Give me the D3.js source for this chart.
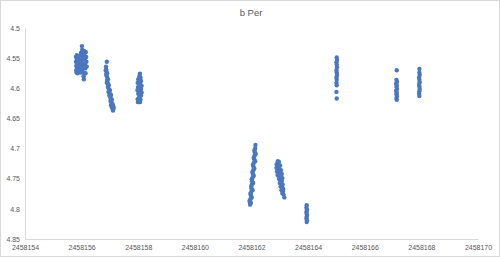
<!DOCTYPE html>
<html>
<head>
<meta charset="utf-8">
<script src="https://cdn.jsdelivr.net/npm/d3@7"></script>
<style>
  body { margin: 0; background: #fff; }
  text { font-family: "Liberation Sans", Arial, sans-serif; fill: #595959; }
</style>
</head>
<body>
<svg id="chart" width="500" height="257"></svg>
<script>
// observations per night, [JD, magnitude]
var night1 = [[2458155.80,4.548],[2458155.80,4.556],[2458155.81,4.563],[2458155.81,4.570],[2458155.82,4.574],
  [2458155.83,4.545],[2458155.84,4.552],[2458155.85,4.560],[2458155.85,4.567],[2458155.86,4.575],
  [2458155.88,4.549],[2458155.89,4.557],[2458155.90,4.564],[2458155.91,4.571],
  [2458155.93,4.546],[2458155.94,4.553],[2458155.95,4.560],[2458155.96,4.568],[2458155.97,4.574],
  [2458155.98,4.541],[2458155.99,4.548],[2458156.00,4.556],[2458156.01,4.563],[2458156.02,4.570],
  [2458156.01,4.530],[2458156.02,4.536],[2458156.03,4.543],[2458156.04,4.551],[2458156.05,4.559],
  [2458156.06,4.566],[2458156.06,4.574],[2458156.07,4.580],[2458156.08,4.585],
  [2458156.09,4.538],[2458156.10,4.545],[2458156.11,4.552],[2458156.12,4.560],[2458156.13,4.567],[2458156.14,4.575],
  [2458156.15,4.540],[2458156.16,4.548],[2458156.17,4.556],[2458156.18,4.564]];
var night2 = [[2458156.89,4.556],
  [2458156.86,4.564],[2458156.87,4.569],[2458156.88,4.573],[2458156.87,4.577],[2458156.89,4.580],
  [2458156.91,4.584],[2458156.90,4.588],[2458156.92,4.591],[2458156.94,4.594],[2458156.93,4.598],
  [2458156.96,4.601],[2458156.97,4.605],[2458156.99,4.608],[2458156.98,4.612],[2458157.01,4.614],
  [2458157.03,4.617],[2458157.02,4.621],[2458157.05,4.623],[2458157.06,4.626],[2458157.08,4.629],
  [2458157.07,4.632],[2458157.10,4.634],[2458157.11,4.637],
  [2458156.90,4.575],[2458156.93,4.585],[2458156.96,4.595],[2458157.00,4.603],[2458157.04,4.611],
  [2458157.07,4.619],[2458157.10,4.627],[2458157.12,4.630],
  [2458156.85,4.570],[2458156.89,4.591],[2458156.95,4.606],[2458157.04,4.628],[2458157.13,4.633]];
var night3 = [[2458158.06,4.576],[2458158.04,4.580],[2458158.08,4.582],[2458158.00,4.585],[2458158.05,4.587],
  [2458158.10,4.588],[2458157.98,4.591],[2458158.03,4.592],[2458158.08,4.594],[2458158.12,4.596],
  [2458157.99,4.598],[2458158.05,4.599],[2458158.10,4.601],[2458157.97,4.603],[2458158.02,4.604],
  [2458158.07,4.606],[2458158.12,4.607],[2458158.00,4.609],[2458158.05,4.611],[2458158.10,4.612],
  [2458158.03,4.615],[2458157.98,4.618],[2458158.08,4.619],[2458157.99,4.623],[2458158.06,4.623]];
var night4 = [[2458162.14,4.694],[2458162.13,4.700],[2458162.12,4.706],[2458162.11,4.712],[2458162.10,4.718],
  [2458162.08,4.724],[2458162.07,4.730],[2458162.06,4.736],[2458162.05,4.742],[2458162.04,4.748],
  [2458162.02,4.754],[2458162.01,4.760],[2458162.00,4.766],[2458161.99,4.772],[2458161.98,4.778],
  [2458161.96,4.784],[2458161.95,4.790],[2458161.95,4.793],
  [2458162.10,4.703],[2458162.15,4.709],[2458162.08,4.715],[2458162.13,4.721],[2458162.05,4.727],
  [2458162.10,4.733],[2458162.03,4.739],[2458162.08,4.745],[2458162.01,4.751],[2458162.06,4.757],
  [2458161.99,4.763],[2458162.04,4.769],[2458161.96,4.775],[2458162.01,4.781],[2458161.93,4.787],
  [2458161.98,4.790]];
var night5 = [[2458162.93,4.721],[2458162.97,4.722],[2458162.89,4.726],[2458162.95,4.727],[2458163.01,4.728],
  [2458162.88,4.732],[2458162.93,4.733],[2458162.99,4.734],[2458163.04,4.736],[2458162.90,4.738],
  [2458162.96,4.739],[2458163.02,4.740],[2458163.07,4.742],[2458162.92,4.744],[2458162.98,4.745],
  [2458163.04,4.747],[2458163.09,4.749],[2458162.97,4.750],[2458163.02,4.752],[2458163.07,4.754],
  [2458163.00,4.757],[2458163.05,4.759],[2458163.10,4.760],[2458163.03,4.763],[2458163.08,4.765],
  [2458163.12,4.767],[2458163.06,4.769],[2458163.11,4.771],[2458163.09,4.774],[2458163.13,4.776],
  [2458163.16,4.781]];
var night6 = [[2458163.95,4.794],[2458163.94,4.798],[2458163.96,4.801],[2458163.95,4.804],[2458163.94,4.807],
  [2458163.96,4.810],[2458163.95,4.813],[2458163.94,4.816],[2458163.96,4.819],[2458163.95,4.822]];
var night7 = [[2458165.01,4.549],[2458165.02,4.553],[2458165.00,4.557],[2458165.01,4.561],[2458165.02,4.565],
  [2458165.00,4.570],[2458165.01,4.574],[2458165.02,4.578],[2458165.00,4.582],[2458165.01,4.586],
  [2458165.00,4.591],[2458165.01,4.595],[2458165.00,4.606],[2458165.01,4.617]];
var night8 = [[2458167.13,4.570],[2458167.12,4.586],[2458167.14,4.589],[2458167.11,4.592],[2458167.13,4.595],
  [2458167.12,4.598],[2458167.14,4.601],[2458167.11,4.604],[2458167.13,4.607],[2458167.12,4.610],
  [2458167.14,4.613],[2458167.12,4.616],[2458167.13,4.619]];
var night9 = [[2458167.93,4.568],[2458167.93,4.574],[2458167.94,4.578],[2458167.92,4.582],[2458167.93,4.586],
  [2458167.94,4.590],[2458167.92,4.594],[2458167.93,4.597],[2458167.94,4.601],[2458167.93,4.605],
  [2458167.92,4.609],[2458167.93,4.613]];

var xTicks = [2458154, 2458156, 2458158, 2458160, 2458162, 2458164, 2458166, 2458168, 2458170];
var yTicks = [4.5, 4.55, 4.6, 4.65, 4.7, 4.75, 4.8, 4.85];

var svg = d3.select("#chart");
var plotLeft = 25, plotRight = 478, plotTop = 28, plotBottom = 239;

// chart border
svg.append("rect")
   .attr("x", 0.5).attr("y", 0.5)
   .attr("width", 499).attr("height", 256)
   .attr("fill", "#fff").attr("stroke", "#d9d9d9");

svg.append("text")
   .attr("x", 251).attr("y", 16)
   .attr("text-anchor", "middle")
   .attr("font-size", "9.5px")
   .text("b Per");

var xScale = d3.scaleLinear().domain([2458154, 2458170]).range([plotLeft, plotRight]);
var yScale = d3.scaleLinear().domain([4.5, 4.85]).range([plotTop, plotBottom]); // magnitudes grow downwards

var xAxis = svg.append("g")
   .attr("transform", "translate(0," + plotBottom + ")")
   .call(d3.axisBottom(xScale).tickValues(xTicks).tickSize(0).tickPadding(6).tickFormat(d3.format("d")));
xAxis.select(".domain").attr("stroke", "#d9d9d9");
xAxis.selectAll("text").attr("font-size", "7px").style("fill", "#595959")
     .style("font-family", "Liberation Sans, Arial, sans-serif");

var yAxis = svg.append("g")
   .attr("transform", "translate(" + plotLeft + ",0)")
   .call(d3.axisLeft(yScale).tickValues(yTicks).tickSize(0).tickPadding(5).tickFormat(function(d){ return +d.toFixed(2); }));
yAxis.select(".domain").attr("stroke", "#d9d9d9");
yAxis.selectAll("text").attr("font-size", "7px").style("fill", "#595959")
     .style("font-family", "Liberation Sans, Arial, sans-serif");

var nights = [night1, night2, night3, night4, night5, night6, night7, night8, night9];
var points = [].concat.apply([], nights);

svg.append("g").selectAll("circle")
   .data(points)
   .enter().append("circle")
   .attr("cx", function(d) { return xScale(d[0]); })
   .attr("cy", function(d) { return yScale(d[1]); })
   .attr("r", 2.2)
   .style("fill", "#4a78bf");
</script>
</body>
</html>
